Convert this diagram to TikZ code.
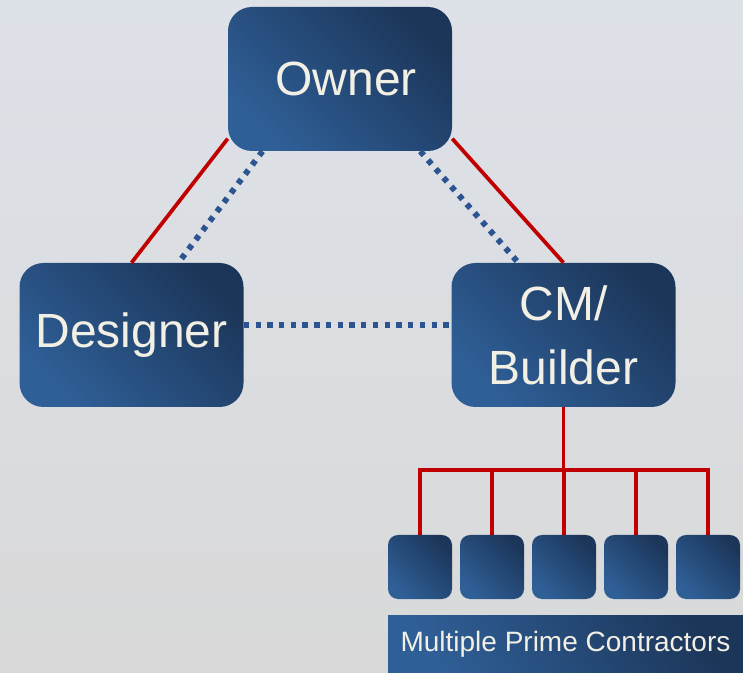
\documentclass[tikz,border=0pt]{standalone}
\usepackage{fontspec}
\setmainfont{Liberation Sans}
\definecolor{bgtop}{HTML}{DDE1E8}
\definecolor{bgbot}{HTML}{D9D9D9}
\definecolor{boxdark}{HTML}{1C365A}
\definecolor{boxlight}{HTML}{2F5F97}
\definecolor{boxtext}{HTML}{F2EFE4}
\definecolor{linkred}{HTML}{C00000}
\definecolor{linkblue}{HTML}{2B5490}
\begin{document}
\begin{tikzpicture}[x=0.75pt,y=-0.75pt,
  party/.style={rounded corners=18pt, minimum width=168pt, minimum height=108pt,
    inner sep=0pt, top color=boxdark, bottom color=boxlight, shading angle=-45,
    text=boxtext, align=center, font=\fontsize{36}{48}\selectfont},
  prime/.style={rounded corners=7.5pt, minimum size=48pt, inner sep=0pt,
    top color=boxdark, bottom color=boxlight, shading angle=-45},
  contract/.style={draw=linkred, line width=2.8pt},
  comm/.style={draw=linkblue, line width=4.4pt, dash pattern=on 4pt off 4.8pt}]
\useasboundingbox[top color=bgtop, bottom color=bgbot] (0,0) rectangle (743,673);

\node[party] (owner) at (340,79) {\hspace{9pt}Owner};
\node[party] (designer) at (131.5,335) {Designer};
\node[party] (cm) at (563.5,335) {CM/\\Builder};

\foreach \i in {1,...,5}
  \node[prime] (pc\i) at (348+72*\i,567) {};
\node[minimum width=266.25pt, minimum height=43.5pt, inner sep=0pt,
  top color=boxdark, bottom color=boxlight, shading angle=-60,
  text=boxtext, font=\fontsize{21}{24}\selectfont] (primes) at (565.5,644)
  {Multiple Prime Contractors};

% contracts
\draw[contract] (owner.208) -- (designer.north);
\draw[contract] (owner.-28) -- (cm.north);
\coordinate (bus) at (0,470);
\draw[contract] (cm.south) -- (cm.south |- bus);
\foreach \i in {1,...,5}
  \draw[contract] (pc\i.north) |- (cm.south |- bus);

% communication
\draw[comm] (owner.223) -- (designer.57);
\draw[comm] (owner.-42) -- (cm.122);
\draw[comm] (designer.5) -- (cm.175);
\end{tikzpicture}
\end{document}
